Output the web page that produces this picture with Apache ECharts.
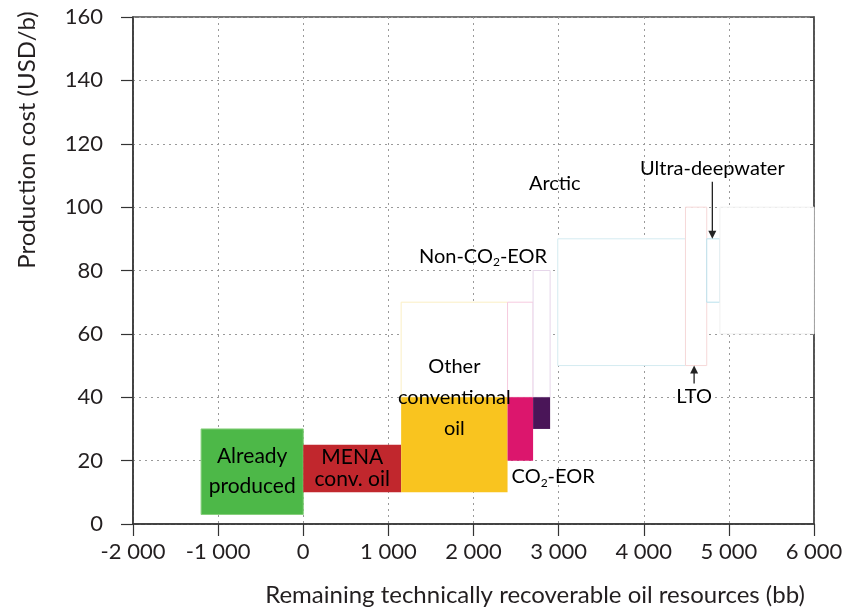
<!DOCTYPE html>
<html><head><meta charset="utf-8">
<script src="https://cdn.jsdelivr.net/npm/echarts@6/dist/echarts.min.js"></script>
<style>html,body{margin:0;padding:0;background:#fff}#c{width:852px;height:610px}</style>
</head><body><div id="c"></div>
<script>
// ---- data ----
const blockNames = ['Already produced', 'MENA conv. oil', 'Other conventional oil', 'CO2-EOR', 'Non-CO2-EOR', 'Arctic', 'LTO', 'Ultra-deepwater', 'Other unconventional'];
const blockStart = [-1200, 0, 1150, 2400, 2700, 2990, 4490, 4740, 4895];
const blockEnd   = [0, 1150, 2400, 2700, 2900, 4490, 4740, 4895, 6000];
const costLow    = [3, 10, 10, 20, 30, 50, 50, 70, 60];
const costHigh   = [30, 25, 70, 70, 80, 90, 100, 90, 100];
const highlightCap = 40;
const xTicks = [-2000, -1000, 0, 1000, 2000, 3000, 4000, 5000, 6000];
const yTicks = [0, 20, 40, 60, 80, 100, 120, 140, 160];

// ---- styles ----
const FONT = 'Lato';
const fillColors  = ['#4db848', '#c1272d', '#f9c41f', '#dc166d', '#4a1558', '#ffffff', '#ffffff', '#ffffff', '#ffffff'];
const strokeColors = ['#86cf7c', null, null, null, null, null, null, null, null];
const faintColors = ['#eee', '#eee', '#fbefc4', '#f6cadf', '#e6d6ea', '#d4ebf1', '#f6d8d8', '#b9e1ed', '#f0f0f0'];

// annotations: anchored to blocks, offsets in px
const annotations = [
  {block: 0, anchor: 'center', text: '{w|Already}\n{w|produced}', lh: 30, dx: 0, dy: 0},
  {block: 1, anchor: 'center', text: '{w|MENA}\n{w|conv. oil}', lh: 22, dx: 0, dy: 0},
  {block: 2, anchor: 'centerCap', text: '{d|Other}\n{d|conventional}\n{d|oil}', lh: 31, dx: 0, dy: 0},
  {block: 3, anchor: 'startLow', text: '{d|CO}{s|2}{d|-EOR}', align: 'left', dx: 4, dy: 16},
  {block: 4, anchor: 'endHigh', text: '{d|Non-CO}{s|2}{d|-EOR}', align: 'right', dx: -3, dy: -14},
  {block: 5, anchor: 'startHigh', text: '{d|Arctic}', dx: -3, dy: -55},
  {block: 7, anchor: 'centerHigh', text: '{d|Ultra-deepwater}', dx: -1, dy: -70, arrowFrom: -57},
  {block: 6, anchor: 'centerLow', text: '{d|LTO}', dx: -2, dy: 31, arrowFrom: 18}
];

const fmt = v => (v < 0 ? '-' : '') + String(Math.abs(v)).replace(/\B(?=(\d{3})+(?!\d))/g, ' ');

const chart = echarts.init(document.getElementById('c'), null, {renderer: 'canvas'});
const blockData = blockNames.map((n, i) => [i, blockStart[i], blockEnd[i], costLow[i], costHigh[i]]);

const richStyles = {
  w: {fontFamily: FONT, fontSize: 21, color: '#ffffff'},
  d: {fontFamily: FONT, fontSize: 20, color: '#2e2a25'},
  s: {fontFamily: FONT, fontSize: 12, color: '#2e2a25', padding: [12, 0, 0, 0]}
};

const option = {
  animation: false,
  grid: {left: 133, top: 17, right: 38, bottom: 86, show: true, borderColor: '#4a4a4a', borderWidth: 1.5, backgroundColor: '#fff'},
  xAxis: {
    type: 'value', min: xTicks[0], max: xTicks[xTicks.length - 1], interval: 1000,
    axisLine: {show: true, onZero: false, lineStyle: {color: '#333', width: 1.5}},
    axisTick: {show: true, length: 12, lineStyle: {color: '#333', width: 1.2}},
    axisLabel: {formatter: fmt, fontFamily: FONT, fontSize: 22, color: '#231f20', margin: 17},
    splitLine: {show: true, lineStyle: {color: '#9a9a9a', type: [2, 4], width: 1}}
  },
  yAxis: [{
    type: 'value', min: yTicks[0], max: yTicks[yTicks.length - 1], interval: 20,
    axisLine: {show: true, onZero: false, lineStyle: {color: '#333', width: 1.5}},
    axisTick: {show: true, length: 12, lineStyle: {color: '#333', width: 1.2}},
    axisLabel: {fontFamily: FONT, fontSize: 22, color: '#231f20', margin: 30},
    splitLine: {show: true, lineStyle: {color: '#9a9a9a', type: [2, 4], width: 1}}
  }, {
    type: 'value', position: 'right', min: yTicks[0], max: yTicks[yTicks.length - 1], interval: 20,
    axisLine: {show: true, onZero: false, lineStyle: {color: '#4a4a4a', width: 1.5}},
    axisTick: {show: true, inside: true, length: 4, lineStyle: {color: '#4a4a4a'}},
    axisLabel: {show: false}, splitLine: {show: false}
  }],
  graphic: [
    {type: 'text', x: 27, y: 140, rotation: Math.PI / 2,
     style: {text: 'Production cost (USD/b)', font: '24px ' + FONT, fill: '#231f20', textAlign: 'center', textVerticalAlign: 'middle'}},
    {type: 'text', x: 535, y: 595,
     style: {text: 'Remaining technically recoverable oil resources (bb)', font: '24px ' + FONT, fill: '#231f20', textAlign: 'center', textVerticalAlign: 'middle'}}
  ],
  series: [{
    type: 'custom', name: 'blocks', data: blockData, z: 2,
    renderItem: (params, api) => {
      const i = api.value(0), x0 = api.value(1), x1 = api.value(2), lo = api.value(3), hi = api.value(4);
      const children = [];
      if (hi > highlightCap) {
        const a = api.coord([x0, Math.max(lo, highlightCap)]), b = api.coord([x1, hi]);
        children.push({type: 'rect', shape: {x: a[0], y: b[1], width: b[0] - a[0], height: a[1] - b[1]},
          style: {fill: '#ffffff', stroke: faintColors[i], lineWidth: 1}});
      }
      if (lo < highlightCap) {
        const a = api.coord([x0, lo]), b = api.coord([x1, Math.min(hi, highlightCap)]);
        children.push({type: 'rect', shape: {x: a[0], y: b[1], width: b[0] - a[0], height: a[1] - b[1]},
          style: {fill: fillColors[i], stroke: strokeColors[i] || null, lineWidth: strokeColors[i] ? 1 : 0}});
      }
      return {type: 'group', children};
    }
  }, {
    type: 'custom', name: 'labels', data: annotations.map((a, k) => [k]), z: 5,
    renderItem: (params, api) => {
      const an = annotations[api.value(0)];
      const b = an.block;
      const x0 = blockStart[b], x1 = blockEnd[b], lo = costLow[b], hi = costHigh[b];
      let pt;
      switch (an.anchor) {
        case 'center': pt = api.coord([(x0 + x1) / 2, (lo + Math.min(hi, highlightCap)) / 2]); break;
        case 'centerCap': pt = api.coord([(x0 + x1) / 2, highlightCap]); break;
        case 'startLow': pt = api.coord([x0, lo]); break;
        case 'endHigh': pt = api.coord([x1, hi]); break;
        case 'startHigh': pt = api.coord([x0, hi]); break;
        case 'centerHigh': pt = api.coord([(x0 + x1) / 2, hi]); break;
        case 'centerLow': pt = api.coord([(x0 + x1) / 2, lo]); break;
      }
      const children = [{
        type: 'text', x: pt[0] + an.dx, y: pt[1] + an.dy,
        style: {text: an.text, rich: richStyles, align: an.align || 'center', verticalAlign: 'middle', lineHeight: an.lh || 22}
      }];
      if (an.arrowFrom) {
        const ax = pt[0] + an.dx;
        const tipY = pt[1];
        const dir = an.arrowFrom < 0 ? 1 : -1; // +1 pointing down
        const startY = pt[1] + an.arrowFrom;
        children.push({type: 'line', shape: {x1: ax, y1: startY, x2: ax, y2: tipY - dir * 6}, style: {stroke: '#222', lineWidth: 1.3}});
        children.push({type: 'polygon', shape: {points: [[ax, tipY], [ax - 4, tipY - dir * 8], [ax + 4, tipY - dir * 8]]}, style: {fill: '#222'}});
      }
      return {type: 'group', children};
    }
  }]
};
chart.setOption(option);
</script>
</body></html>
